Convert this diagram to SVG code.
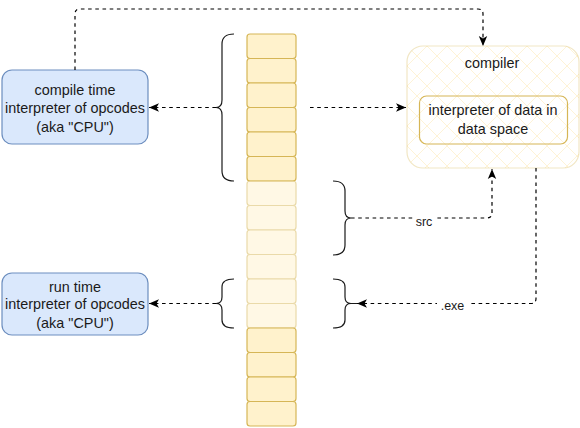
<svg xmlns="http://www.w3.org/2000/svg" width="580" height="428" viewBox="0 0 580 428">
<style>
  .cell{fill:#fff2cc;stroke:#d6b656;stroke-width:1.2}
  .light{opacity:0.5}
  .blue{fill:#dae8fc;stroke:#6c8ebf;stroke-width:1.2}
  .t{font-family:"Liberation Sans",Arial,sans-serif;font-size:14.4px;fill:#1a1a1a;text-anchor:middle}
  .lbl{font-family:"Liberation Sans",Arial,sans-serif;font-size:12.5px;fill:#1a1a1a;text-anchor:middle}
  .brace{fill:none;stroke:#1a1a1a;stroke-width:1.2}
  .conn{fill:none;stroke:#000;stroke-width:1.2;stroke-dasharray:3.6 3.6}
</style>
<defs>
  <marker id="arr" markerUnits="userSpaceOnUse" markerWidth="12" markerHeight="12" viewBox="0 0 12 12" refX="11" refY="6" orient="auto">
    <path d="M1,1.8 L11,6 L1,10.2 L3.5,6 Z" fill="#000"/>
  </marker>
  <pattern id="hatch" patternUnits="userSpaceOnUse" width="20" height="20" x="407" y="46">
    <path d="M0,0 L20,20 M20,0 L0,20" stroke="#fef3d6" stroke-width="1" fill="none"/>
  </pattern>
</defs>
<rect width="580" height="428" fill="#ffffff"/>

<g id="memory">
  <rect class="cell" x="247" y="34" width="49" height="24.5" rx="3"/>
  <rect class="cell" x="247" y="58.5" width="49" height="24.5" rx="3"/>
  <rect class="cell" x="247" y="83" width="49" height="24.5" rx="3"/>
  <rect class="cell" x="247" y="107.5" width="49" height="24.5" rx="3"/>
  <rect class="cell" x="247" y="132" width="49" height="24.5" rx="3"/>
  <rect class="cell" x="247" y="156.5" width="49" height="24.5" rx="3"/>
  <g class="light">
    <rect class="cell" x="247" y="181" width="49" height="24.5" rx="3"/>
    <rect class="cell" x="247" y="205.5" width="49" height="24.5" rx="3"/>
    <rect class="cell" x="247" y="230" width="49" height="24.5" rx="3"/>
    <rect class="cell" x="247" y="254.5" width="49" height="24.5" rx="3"/>
    <rect class="cell" x="247" y="279" width="49" height="24.5" rx="3"/>
    <rect class="cell" x="247" y="303.5" width="49" height="24.5" rx="3"/>
  </g>
  <rect class="cell" x="247" y="328" width="49" height="24.5" rx="3"/>
  <rect class="cell" x="247" y="352.5" width="49" height="24.5" rx="3"/>
  <rect class="cell" x="247" y="377" width="49" height="24.5" rx="3"/>
  <rect class="cell" x="247" y="401.5" width="49" height="24.5" rx="3"/>
</g>

<g id="brace-compile">
  <path class="brace" d="M234,34 Q222,34 222,44 L222,100 Q222,107.5 216,107.5 Q222,107.5 222,115 L222,171 Q222,181 234,181"/>
</g>
<g id="brace-run">
  <path class="brace" d="M234,279 Q222,279 222,287 L222,297 Q222,303.5 216,303.5 Q222,303.5 222,310 L222,320 Q222,328 234,328"/>
</g>
<g id="brace-src">
  <path class="brace" d="M333,181 Q345,181 345,191 L345,211 Q345,218 351,218 Q345,218 345,225 L345,245 Q345,255 333,255"/>
</g>
<g id="brace-exe">
  <path class="brace" d="M333,279 Q345,279 345,287 L345,297 Q345,303.5 351,303.5 Q345,303.5 345,310 L345,320 Q345,328 333,328 M348,303.5 L357,303.5"/>
</g>

<g id="compile-cpu">
  <rect class="blue" x="2" y="70" width="146" height="74" rx="10"/>
  <text class="t" x="75" y="95">compile time</text>
  <text class="t" x="75" y="112.5">interpreter of opcodes</text>
  <text class="t" x="75" y="131.5">(aka "CPU")</text>
</g>

<g id="run-cpu">
  <rect class="blue" x="2" y="273" width="146" height="62" rx="10"/>
  <text class="t" x="75" y="291.5">run time</text>
  <text class="t" x="75" y="309">interpreter of opcodes</text>
  <text class="t" x="75" y="328">(aka "CPU")</text>
</g>

<g id="compiler">
  <rect x="407" y="46" width="172" height="122" rx="16" fill="#ffffff"/>
  <rect x="407" y="46" width="172" height="122" rx="16" fill="url(#hatch)" stroke="#d6b656" stroke-opacity="0.35" stroke-width="1.2"/>
  <text class="t" x="492" y="68">compiler</text>
  <g id="data-interpreter">
    <rect x="419.5" y="96" width="148" height="48" rx="7" fill="none" stroke="#d6b656" stroke-width="1.2"/>
    <text class="t" x="493" y="115">interpreter of data in</text>
    <text class="t" x="493" y="133.5">data space</text>
  </g>
</g>

<g id="connectors">
  <path class="conn" d="M75,70 L75,14 Q75,9 80,9 L478,9 Q483,9 483,14 L483,46" marker-end="url(#arr)"/>
  <path class="conn" d="M216,107.5 L149,107.5" marker-end="url(#arr)"/>
  <path class="conn" d="M216,303.5 L149,303.5" marker-end="url(#arr)"/>
  <path class="conn" d="M310,107.5 L406,107.5" marker-end="url(#arr)"/>
  <path class="conn" d="M351,218 L487,218 Q492,218 492,213 L492,169" marker-end="url(#arr)"/>
  <path class="conn" d="M536,168 L536,298.5 Q536,303.5 531,303.5 L357,303.5" marker-end="url(#arr)"/>
  <rect x="413" y="215" width="22" height="12" fill="#ffffff"/>
  <text class="lbl" x="424" y="226">src</text>
  <rect x="437" y="300" width="31" height="12" fill="#ffffff"/>
  <text class="lbl" x="452.5" y="309.5">.exe</text>
</g>
</svg>
